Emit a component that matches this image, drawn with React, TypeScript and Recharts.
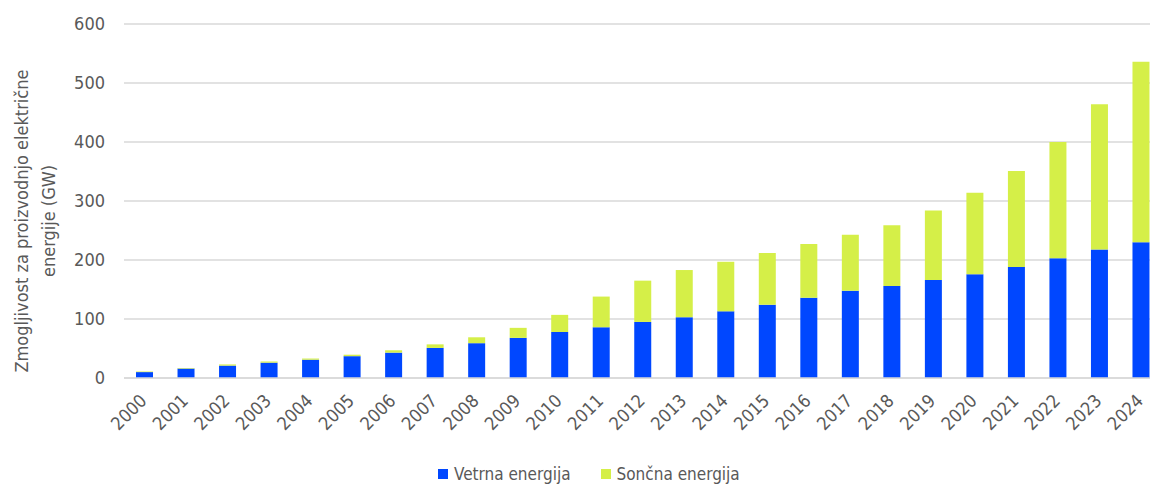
import { BarChart, Bar, XAxis, YAxis, CartesianGrid, Legend } from "recharts"

const years = [
  "2000", "2001", "2002", "2003", "2004", "2005", "2006", "2007", "2008", "2009",
  "2010", "2011", "2012", "2013", "2014", "2015", "2016", "2017", "2018", "2019",
  "2020", "2021", "2022", "2023", "2024",
]
// GW
const wind = [10, 16, 21, 26, 31, 37, 43, 51, 59, 68, 78, 86, 95, 103, 113, 124, 136, 148, 156, 166, 176, 188, 203, 218, 230]
const solar = [1, 1, 2, 2, 2, 2.5, 4, 6, 10, 17, 29, 52, 70, 80, 84, 88, 91, 95, 103, 118, 138, 163, 197, 246, 306]
const yTicks = [0, 100, 200, 300, 400, 500, 600]
const seriesNames = ["Vetrna energija", "Sončna energija"]

const WIND_COLOR = "#0047ff"
const SOLAR_COLOR = "#d5ef48"
const TEXT_COLOR = "#595959"
const GRID_COLOR = "#d9d9d9"
const FONT = '"DejaVu Sans Condensed", "DejaVu Sans", sans-serif'

const data = years.map((year, i) => ({
  year,
  [seriesNames[0]]: wind[i],
  [seriesNames[1]]: solar[i],
}))

function XTick({ x, y, payload }: any) {
  const tx = x + 3
  const ty = y + 16
  return (
    <text
      x={tx}
      y={ty}
      transform={`rotate(-45, ${tx}, ${ty})`}
      textAnchor="end"
      fill={TEXT_COLOR}
      fontSize={18}
      fontFamily={FONT}
    >
      {payload.value}
    </text>
  )
}

function YLabel() {
  return (
    <text
      x={28}
      y={221}
      transform="rotate(-90, 28, 221)"
      textAnchor="middle"
      fill={TEXT_COLOR}
      fontSize={18}
      fontFamily={FONT}
    >
      <tspan x={28} dy={0}>Zmogljivost za proizvodnjo električne</tspan>
      <tspan x={28} dy={27}>energije (GW)</tspan>
    </text>
  )
}

function renderLegend(props: any) {
  const items = [...(props.payload || [])].sort(
    (a: any, b: any) => seriesNames.indexOf(a.value) - seriesNames.indexOf(b.value)
  )
  return (
    <div
      style={{
        display: "flex",
        alignItems: "center",
        height: 20,
        paddingLeft: 438,
        fontFamily: FONT,
        fontSize: 17,
        color: TEXT_COLOR,
      }}
    >
      {items.map((item: any, i: number) => (
        <div key={item.value} style={{ display: "flex", alignItems: "center", marginRight: i === 0 ? 30 : 0 }}>
          <span style={{ display: "inline-block", width: 10, height: 10, background: item.color, marginRight: 6 }} />
          <span>{item.value}</span>
        </div>
      ))}
    </div>
  )
}

export default function App() {
  return (
    <div
      style={{
        position: "absolute",
        left: 0,
        top: 0,
        width: 1150,
        height: 485,
        overflow: "hidden",
        background: "#fff",
      }}
    >
      <BarChart
        width={1170}
        height={485}
        data={data}
        margin={{ top: 24, right: 8, left: 0, bottom: 1 }}
        barSize={17}
      >
        <CartesianGrid vertical={false} stroke={GRID_COLOR} strokeWidth={1.5} />
        <XAxis
          dataKey="year"
          height={86}
          interval={0}
          tick={<XTick />}
          tickLine={false}
          axisLine={{ stroke: GRID_COLOR, strokeWidth: 1.5 }}
        />
        <YAxis
          width={124}
          domain={[0, 600]}
          ticks={yTicks}
          tickLine={false}
          axisLine={false}
          tickMargin={13}
          tick={{ fill: TEXT_COLOR, fontSize: 18, fontFamily: FONT }}
          label={{ content: () => <YLabel /> }}
        />
        <Legend
          verticalAlign="bottom"
          content={renderLegend}
          wrapperStyle={{ left: 0, width: 1150, bottom: 1 }}
        />
        <Bar dataKey={seriesNames[0]} stackId="a" fill={WIND_COLOR} isAnimationActive={false} />
        <Bar dataKey={seriesNames[1]} stackId="a" fill={SOLAR_COLOR} isAnimationActive={false} />
      </BarChart>
    </div>
  )
}
